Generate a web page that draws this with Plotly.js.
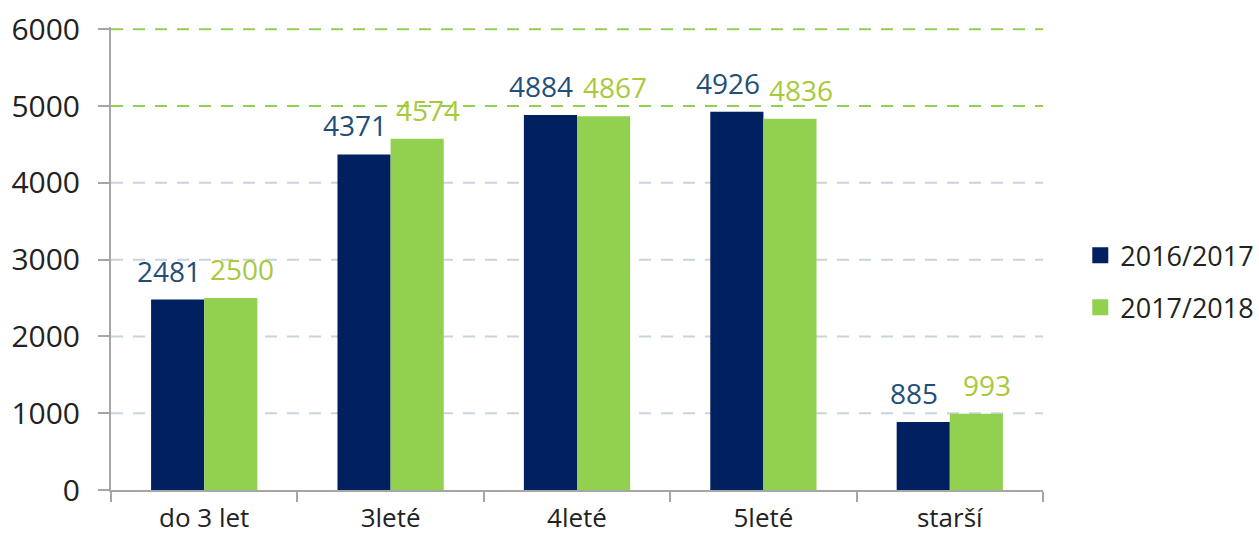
<!DOCTYPE html>
<html>
<head>
<meta charset="utf-8">
<script src="https://cdn.plot.ly/plotly-3.0.1.min.js"></script>
<style>html,body{margin:0;padding:0;background:#fff;}#chart{width:1259px;height:542px;}</style>
</head>
<body>
<div id="chart"></div>
<script>
const categories = ["do 3 let", "3leté", "4leté", "5leté", "starší"];
const series2016 = [2481, 4371, 4884, 4926, 885];
const series2017 = [2500, 4574, 4867, 4836, 993];
const seriesNames = ["2016/2017", "2017/2018"];
const yTicks = [0, 1000, 2000, 3000, 4000, 5000, 6000];
const greyGrid = [1000, 2000, 3000, 4000];
const greenGrid = [5000, 6000];

const navy = "#002060", green = "#92d050";
const navyLabel = "#1f4e79", greenLabel = "#a8c93a";
const FONT = "Open Sans, sans-serif";

const margin = {l: 111, r: 216, t: 27, b: 52, autoexpand: false};
const plotW = 1259 - margin.l - margin.r;
const bargap = 0.43;
const barW = plotW / categories.length * (1 - bargap) / 2;

const traces = [
  {type: "bar", x: categories, y: series2016, name: seriesNames[0], marker: {color: navy}, showlegend: false, hoverinfo: "x+y"},
  {type: "bar", x: categories, y: series2017, name: seriesNames[1], marker: {color: green}, showlegend: false, hoverinfo: "x+y"},
  {type: "scatter", mode: "markers", x: [categories[0]], y: [null], name: seriesNames[0], legendgroup: "a", marker: {symbol: "square", size: 16, color: navy}},
  {type: "scatter", mode: "markers", x: [categories[0]], y: [null], name: seriesNames[1], legendgroup: "b", marker: {symbol: "square", size: 16, color: green}}
];

const shapes = [];
greyGrid.forEach(v => shapes.push({type: "line", xref: "paper", x0: 0, x1: 1, yref: "y", y0: v, y1: v, layer: "below", line: {color: "#c9d3df", width: 2, dash: "12px,10px"}}));
greenGrid.forEach(v => shapes.push({type: "line", xref: "paper", x0: 0, x1: 1, yref: "y", y0: v, y1: v, layer: "below", line: {color: "#92d050", width: 2, dash: "12px,10px"}}));

const annotations = [];
categories.forEach((c, i) => {
  annotations.push({x: c, y: series2016[i], xref: "x", yref: "y", text: String(series2016[i]), showarrow: false, yanchor: "bottom", xanchor: "center", xshift: -barW / 2 - 9, yshift: 8, font: {family: FONT, size: 28, color: navyLabel}});
  annotations.push({x: c, y: series2017[i], xref: "x", yref: "y", text: String(series2017[i]), showarrow: false, yanchor: "bottom", xanchor: "center", xshift: barW / 2 + 11, yshift: 8, font: {family: FONT, size: 28, color: greenLabel}});
});

const layout = {
  width: 1259, height: 542,
  margin: margin,
  paper_bgcolor: "#fff", plot_bgcolor: "#fff",
  font: {family: FONT, size: 30, color: "#222"},
  barmode: "group", bargap: bargap, bargroupgap: 0,
  xaxis: {type: "category", automargin: false, showgrid: false, showline: true, linecolor: "#a6a6a6", linewidth: 2,
          ticks: "outside", tickson: "boundaries", ticklen: 10, tickcolor: "#a6a6a6", tickwidth: 2, ticklabelstandoff: 4,
          tickfont: {family: FONT, size: 26, color: "#222"}, fixedrange: true},
  yaxis: {range: [0, 6030], automargin: false, tickvals: yTicks, showgrid: false, zeroline: false, showline: true, linecolor: "#a6a6a6", linewidth: 2,
          ticks: "outside", ticklen: 11, tickcolor: "#a6a6a6", tickwidth: 2, ticklabelstandoff: 12,
          tickfont: {family: FONT, size: 30, color: "#222"}, fixedrange: true},
  legend: {x: 1.04, y: 0.45, xanchor: "left", yanchor: "middle", traceorder: "grouped", tracegroupgap: 14,
           font: {family: FONT, size: 27, color: "#222"}, bgcolor: "rgba(0,0,0,0)"},
  shapes: shapes,
  annotations: annotations
};

Plotly.newPlot("chart", traces, layout, {displayModeBar: false, staticPlot: true});
</script>
</body>
</html>
